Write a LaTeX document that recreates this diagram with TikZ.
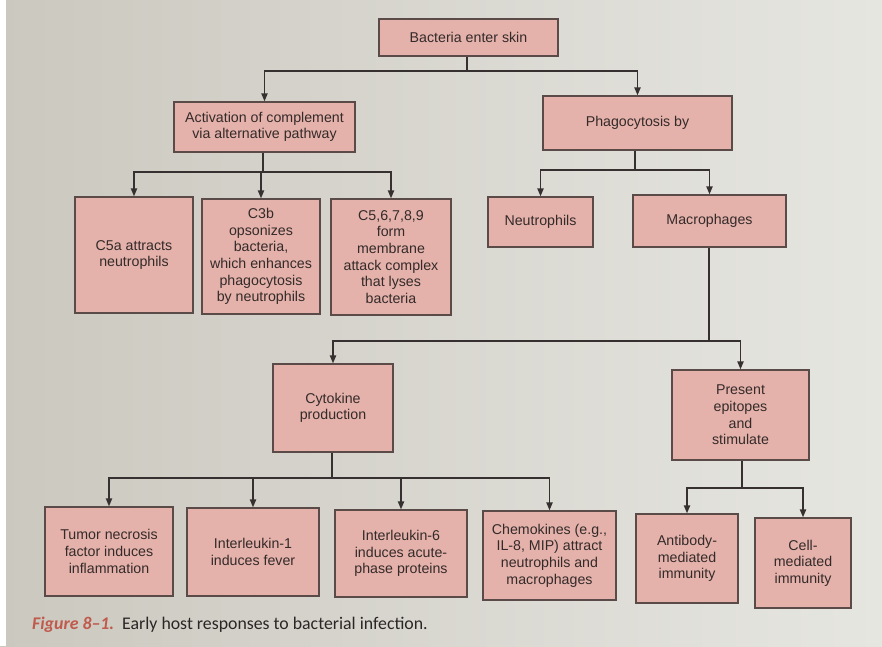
\documentclass[tikz,border=0pt]{standalone}
\usepackage{fontspec}
\setmainfont{Liberation Sans}
\newfontfamily\capfont{Carlito}
\usetikzlibrary{arrows.meta}
\definecolor{boxfill}{HTML}{E4B2AA}
\definecolor{boxline}{HTML}{5A4A48}
\definecolor{txt}{HTML}{342A2A}
\definecolor{lnk}{HTML}{363030}
\definecolor{bgL}{HTML}{CBC8BF}
\definecolor{bgR}{HTML}{E6E6E1}
\definecolor{capred}{HTML}{C05A4C}
\definecolor{captxt}{HTML}{2A2626}
\begin{document}
\begin{tikzpicture}[x=1pt,y=-1pt,
  box/.style={draw=boxline, line width=1.1pt, fill=boxfill, text=txt, align=center, inner sep=0pt, font=\fontsize{14.2}{16.6}\selectfont},
  conn/.style={draw=lnk, line width=1.8pt},
  arr/.style={conn, -{Triangle[length=8pt,width=6pt]}}]
\useasboundingbox (0,0) rectangle (882,646);
\fill[left color=bgL, right color=bgR] (0,0) rectangle (882,646);
\fill[white] (0,0) rectangle (6,646);

% level 0
\node[box, minimum width=179pt, minimum height=37pt] (top) at (468.5,37.5) {Bacteria enter skin};
% level 1
\node[box, minimum width=181pt, minimum height=50pt] (act) at (264.5,127) {Activation of complement\\via alternative pathway};
\node[box, minimum width=189pt, minimum height=54pt] (phag) at (637.5,123) {Phagocytosis by};
% level 2
\node[box, minimum width=118pt, minimum height=116pt] (c5a) at (134,255) {C5a attracts\\neutrophils};
\node[box, minimum width=118pt, minimum height=115pt] (c3b) at (261,256.5) {C3b\\opsonizes\\bacteria,\\which enhances\\phagocytosis\\by neutrophils};
\node[box, minimum width=120pt, minimum height=116pt] (mac) at (391,257) {C5,6,7,8,9\\form\\membrane\\attack complex\\that lyses\\bacteria};
\node[box, minimum width=105pt, minimum height=50pt] (neut) at (540.5,222) {Neutrophils};
\node[box, minimum width=153pt, minimum height=52pt] (macro) at (709.5,221) {Macrophages};
% level 3
\node[box, minimum width=120pt, minimum height=88pt] (cyto) at (333,408) {Cytokine\\production};
\node[box, minimum width=137pt, minimum height=90pt] (pres) at (740.5,415) {Present\\epitopes\\and\\stimulate};
% level 4
\node[box, minimum width=128pt, minimum height=89pt] (tnf) at (109,551.5) {Tumor necrosis\\factor induces\\inflammation};
\node[box, minimum width=132pt, minimum height=88pt] (il1) at (253,552) {Interleukin-1\\induces fever};
\node[box, minimum width=132pt, minimum height=87pt] (il6) at (401,553.5) {Interleukin-6\\induces acute-\\phase proteins};
\node[box, minimum width=133pt, minimum height=89pt] (chem) at (549.5,555.5) {Chemokines (e.g.,\\IL-8, MIP) attract\\neutrophils and\\macrophages};
\node[box, minimum width=102pt, minimum height=89pt] (anti) at (687,558.5) {Antibody-\\mediated\\immunity};
\node[box, minimum width=96pt, minimum height=90pt] (cell) at (803,563) {Cell-\\mediated\\immunity};

% junctions
\coordinate (j0) at (467,71);
\coordinate (j1) at (263,172);
\coordinate (j2) at (635,170);
\coordinate (j3) at (709,341);
\coordinate (j4) at (332,478);
\coordinate (j5) at (742,488);

\draw[conn] (top.south -| j0) -- (j0);
\draw[arr] (j0) -| (act.north);
\draw[arr] (j0) -| (phag.north);

\draw[conn] (act.south -| j1) -- (j1);
\draw[arr] (j1) -| (c5a.north);
\draw[arr] (j1) -- (c3b.north |- j1) -- (c3b.north);
\draw[arr] (j1) -| (mac.north);

\draw[conn] (phag.south -| j2) -- (j2);
\draw[arr] (j2) -| (neut.north);
\draw[arr] (j2) -| (macro.north);

\draw[conn] (macro.south -| j3) -- (j3);
\draw[arr] (j3) -| (cyto.north);
\draw[arr] (j3) -| (pres.north);

\draw[conn] (cyto.south -| j4) -- (j4);
\draw[arr] (j4) -| (tnf.north);
\draw[arr] (j4) -| (il1.north);
\draw[arr] (j4) -| (il6.north);
\draw[arr] (j4) -| (chem.north);

\draw[conn] (pres.south -| j5) -- (j5);
\draw[arr] (j5) -| (anti.north);
\draw[arr] (j5) -| (cell.north);

% caption
\node[anchor=base west, inner sep=0pt, text=captxt] (cap) at (32,629) {\capfont\fontsize{17.8}{20}\selectfont\textcolor{capred}{\bfseries\itshape Figure 8–1.}\hspace{0.45em}Early host responses to bacterial infection.};
\end{tikzpicture}
\end{document}
